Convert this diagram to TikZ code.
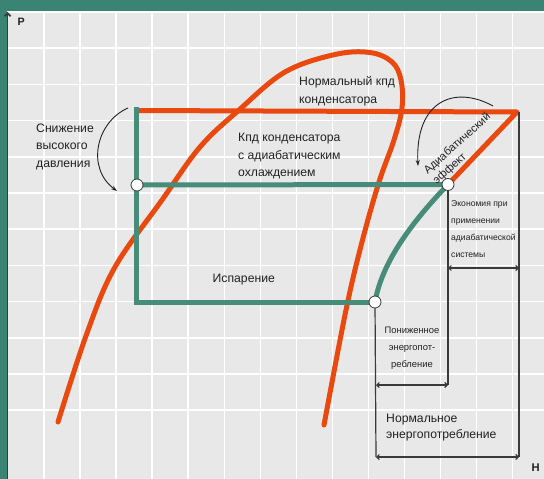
\documentclass[tikz,border=0pt]{standalone}
\usepackage{fontspec}
\setmainfont{Liberation Sans}
\usetikzlibrary{arrows.meta}
\definecolor{frame}{HTML}{3B8373}
\definecolor{paper}{HTML}{E8E8E8}
\definecolor{hot}{HTML}{E9480F}
\definecolor{cool}{HTML}{478B79}
\definecolor{ink}{HTML}{222222}
\definecolor{dim}{HTML}{3A3A3A}
\tikzset{
  gridline/.style={white, line width=1.5pt},
  hotline/.style={hot, line width=5pt, line cap=round, line join=round},
  coolline/.style={cool, line width=5pt, line join=miter},
  dimline/.style={dim, line width=1.2pt},
  dimarrow/.style={dim, line width=1.1pt, {Straight Barb[length=2.5pt,width=5pt]}-{Straight Barb[length=2.5pt,width=5pt]}},
  note/.style={ink, line width=0.9pt, -{Stealth[length=6pt,width=4pt]}},
  statept/.style={circle, fill=white, draw=dim, line width=0.8pt, minimum size=12pt, inner sep=0pt},
  lbl/.style={ink, inner sep=0pt, align=left, anchor=north west},
}
\begin{document}
\begin{tikzpicture}[x=1pt,y=-1pt]
\useasboundingbox (0,0) rectangle (544,479);
\fill[paper] (0,0) rectangle (544,479);
% grid
\foreach \i in {0,...,13} \draw[gridline] ({44+36.05*\i},11) -- ({44+36.05*\i},479);
\foreach \j in {0,...,11} \draw[gridline] (8,{12+36.2*\j}) -- (544,{12+36.2*\j});
% frame
\fill[frame] (0,0) rectangle (544,11);
\fill[frame] (0,0) rectangle (6.5,479);
% axis
\coordinate (axbot) at (7.6,479);
\coordinate (axtop) at (7.6,12);
\draw[dim, line width=1.7pt, -{Straight Barb[length=3pt,width=6pt]}] (axbot) -- (axtop);
\node[font=\bfseries\fontsize{10.7}{12}\selectfont, ink, anchor=base west, inner sep=0pt] (P) at (17.5,25.2) {P};
\node[font=\bfseries\fontsize{11.2}{12}\selectfont, ink, anchor=base west, inner sep=0pt] (H) at (531.5,471) {H};

% key points
\coordinate (A) at (136.5,110.5);
\coordinate (B) at (517,112);
\coordinate (C) at (448,184.5);
\coordinate (D) at (137,185);
\coordinate (E) at (375,302);
\coordinate (F) at (136.5,302);
\coordinate (Gtop) at (136.5,107);

% saturation dome
\draw[hotline] plot[smooth, tension=0.6] coordinates {(58,422) (87,333) (115,267) (162,200) (200,147) (239,110) (285,72) (335,54.5) (370,52.5) (392,62) (401,80) (402,108) (394,140) (379,182) (362,242) (346,310) (324,425)};
% condenser line (normal)
\draw[hotline] (A) -- (B) -- (C);
% cycle with adiabatic cooling
\draw[coolline] (Gtop) -- (F) -- (E);
\draw[coolline, line cap=round] (D) -- (C);
\draw[coolline, line cap=round] (C) .. controls (412,222) and (382,262) .. (E);

% dimension lines
\coordinate (R1) at (519,112);
\coordinate (R2) at (519,457);
\coordinate (C2) at (448,385);
\coordinate (E2) at (376,457);
\draw[dimline] (R1) -- (R2);
\draw[dimline] (C) -- (C2);
\draw[dimline] (E) -- (E2);
\coordinate (s1) at (448,268);
\coordinate (s2) at (519,268);
\coordinate (m1) at (376,385);
\coordinate (n2) at (519,457);
\draw[dimarrow] (s1) -- (s2);
\draw[dimarrow] (m1) -- (C2);
\draw[dimarrow] (E2) -- (n2);

% state points
\node[statept] (pD) at (D) {};
\node[statept] (pC) at (C) {};
\node[statept] (pE) at (E) {};

% annotation arrows
\coordinate (a1) at (128,108);
\coordinate (a2) at (117,191);
\draw[note] (a1) .. controls (96,122) and (86,168) .. (a2);
\coordinate (b1) at (493,106);
\coordinate (b2) at (418,166);
\draw[note] (b1) .. controls (455,85) and (415,100) .. (b2);

% labels
\node[lbl, font=\fontsize{12.2}{17.7}\selectfont] (t1) at (299,76.3) {Нормальный кпд\\конденсатора};
\node[lbl, font=\fontsize{12.2}{17.3}\selectfont] (t2) at (238,133.3) {Кпд конденсатора\\с адиабатическим\\охлаждением};
\node[lbl, font=\fontsize{12.2}{17.5}\selectfont] (t3) at (36,123.3) {Снижение\\высокого\\давления};
\node[ink, inner sep=0pt, anchor=base west, font=\fontsize{12.2}{14}\selectfont] (t4) at (212.5,282.7) {Испарение};
\node[lbl, font=\fontsize{8.6}{17.3}\selectfont] (t5) at (451,199.8) {Экономия при\\применении\\адиабатической\\системы};
\node[ink, inner sep=0pt, align=center, anchor=north, font=\fontsize{9.4}{17}\selectfont] (t6) at (412,327.3) {Пониженное\\энергопот-\\ребление};
\node[lbl, font=\fontsize{12.2}{15.6}\selectfont] (t7) at (386,414) {Нормальное\\энергопотребление};
\node[ink, inner sep=0pt, align=left, anchor=center, rotate=42, font=\fontsize{11.2}{13.5}\selectfont] (t8) at (462,149) {Адиабатический\\эффект};
\end{tikzpicture}
\end{document}
